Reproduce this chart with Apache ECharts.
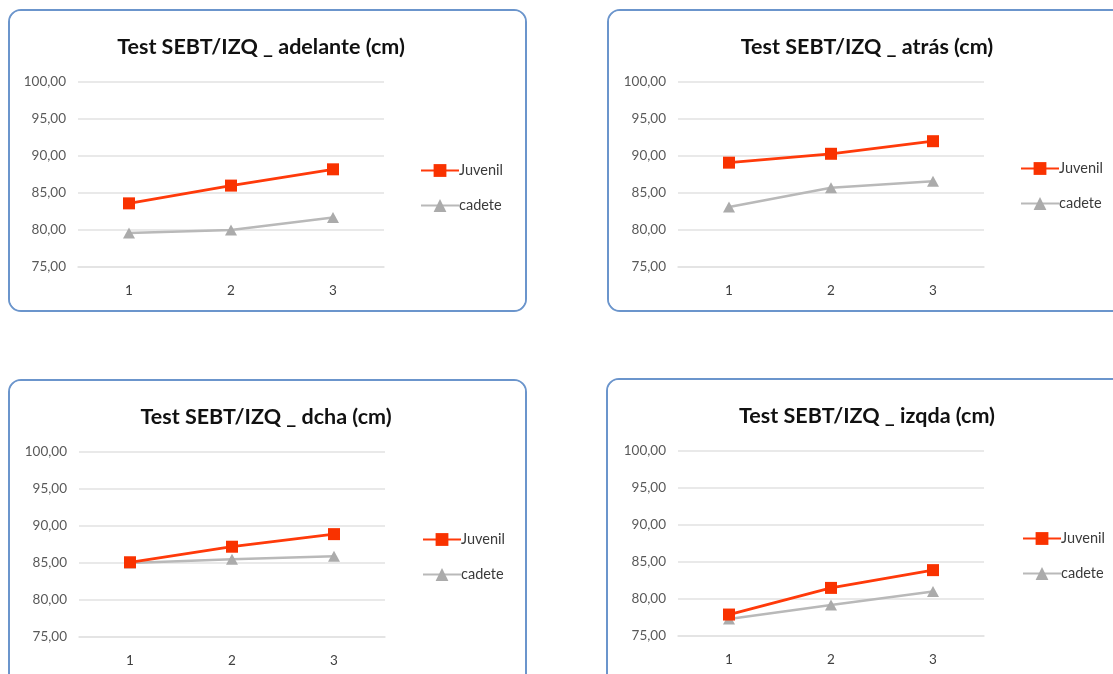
<!DOCTYPE html>
<html>
<head>
<meta charset="utf-8">
<script src="https://cdn.jsdelivr.net/npm/echarts@6/dist/echarts.min.js"></script>
<style>
  html, body { margin: 0; padding: 0; background: #ffffff; width: 1113px; height: 674px; overflow: hidden; }
  .panel { position: absolute; box-sizing: border-box; border: 2px solid #6b95cc; border-radius: 13px; background: #fff; overflow: hidden; }
  .chart { position: absolute; left: 0; top: 0; }
</style>
</head>
<body>
<div id="p1" class="panel" style="left:8px;top:9px;width:519px;height:303px;"><div id="c1" class="chart" style="width:515px;height:299px;"></div></div>
<div id="p2" class="panel" style="left:607px;top:9px;width:530px;height:303px;"><div id="c2" class="chart" style="width:526px;height:299px;"></div></div>
<div id="p3" class="panel" style="left:8px;top:379px;width:519px;height:320px;"><div id="c3" class="chart" style="width:515px;height:316px;"></div></div>
<div id="p4" class="panel" style="left:606px;top:378px;width:530px;height:320px;"><div id="c4" class="chart" style="width:526px;height:316px;"></div></div>
<script>
// ---- data ----
const categories = ['1', '2', '3'];
const yTicks = [75, 80, 85, 90, 95, 100];
const seriesNames = ['Juvenil', 'cadete'];

const titles = [
  'Test SEBT/IZQ _ adelante (cm)',
  'Test SEBT/IZQ _ atrás (cm)',
  'Test SEBT/IZQ _ dcha (cm)',
  'Test SEBT/IZQ _ izqda (cm)'
];

const adelanteJuvenil = [83.6, 86.0, 88.2];
const adelanteCadete  = [79.6, 80.0, 81.7];
const atrasJuvenil    = [89.1, 90.3, 92.0];
const atrasCadete     = [83.1, 85.7, 86.6];
const dchaJuvenil     = [85.1, 87.2, 88.9];
const dchaCadete      = [85.0, 85.5, 85.9];
const izqdaJuvenil    = [77.9, 81.5, 83.9];
const izqdaCadete     = [77.3, 79.2, 81.0];

// ---- layout per panel (positions/styles only) ----
const layouts = [
  { el: 'c1', data: [adelanteJuvenil, adelanteCadete], titleX: 246, gridLeft: 68, gridTop: 71, legendLeft: 405, legendTop: 147 },
  { el: 'c2', data: [atrasJuvenil, atrasCadete],       titleX: 253, gridLeft: 69, gridTop: 71, legendLeft: 406, legendTop: 145 },
  { el: 'c3', data: [dchaJuvenil, dchaCadete],         titleX: 251, gridLeft: 69, gridTop: 71, legendLeft: 407, legendTop: 146 },
  { el: 'c4', data: [izqdaJuvenil, izqdaCadete],       titleX: 254, gridLeft: 70, gridTop: 71, legendLeft: 409, legendTop: 146 }
];

const FONT = 'Lato, "Open Sans", sans-serif';
const colors = ['#ff3a0a', '#b9b9b9'];
const markerColors = ['#f93200', '#ababab'];
const symbols = ['rect', 'triangle'];

layouts.forEach((L, i) => {
  const chart = echarts.init(document.getElementById(L.el), null, { renderer: 'canvas' });
  chart.setOption({
    animation: false,
    backgroundColor: '#ffffff',
    title: {
      text: titles[i],
      left: L.titleX,
      top: 20,
      textAlign: 'center',
      textStyle: { fontFamily: FONT, fontSize: 21.5, fontWeight: 'bold', color: '#111111' }
    },
    legend: {
      orient: 'vertical',
      left: L.legendLeft,
      top: L.legendTop,
      itemGap: 20,
      itemWidth: 38,
      itemHeight: 16,
      data: seriesNames,
      textStyle: { fontFamily: FONT, fontSize: 14.5, color: '#3a3a3a', padding: [0, 0, 0, -5] }
    },
    grid: { left: L.gridLeft, top: L.gridTop, width: 306, height: 185 },
    xAxis: {
      type: 'category',
      data: categories,
      boundaryGap: true,
      axisLine: { show: true, lineStyle: { color: '#e2e2e2', width: 1.5 } },
      axisTick: { show: false },
      axisLabel: { fontFamily: FONT, fontSize: 13.5, color: '#404040', margin: 17 }
    },
    yAxis: {
      type: 'value',
      min: yTicks[0],
      max: yTicks[yTicks.length - 1],
      interval: yTicks[1] - yTicks[0],
      axisLine: { show: false },
      axisTick: { show: false },
      splitLine: { lineStyle: { color: '#e2e2e2', width: 1.5 } },
      axisLabel: {
        fontFamily: FONT, fontSize: 13.5, color: '#595959', margin: 12,
        formatter: v => v.toFixed(2).replace('.', ',')
      }
    },
    series: seriesNames.map((n, k) => ({
      name: n,
      type: 'line',
      data: L.data[k],
      symbol: symbols[k],
      symbolSize: k === 0 ? 12 : [12, 11],
      lineStyle: { color: colors[k], width: k === 0 ? 2.8 : 2.5 },
      itemStyle: { color: markerColors[k] },
      z: k === 0 ? 3 : 2
    }))
  });
});
</script>
</body>
</html>
